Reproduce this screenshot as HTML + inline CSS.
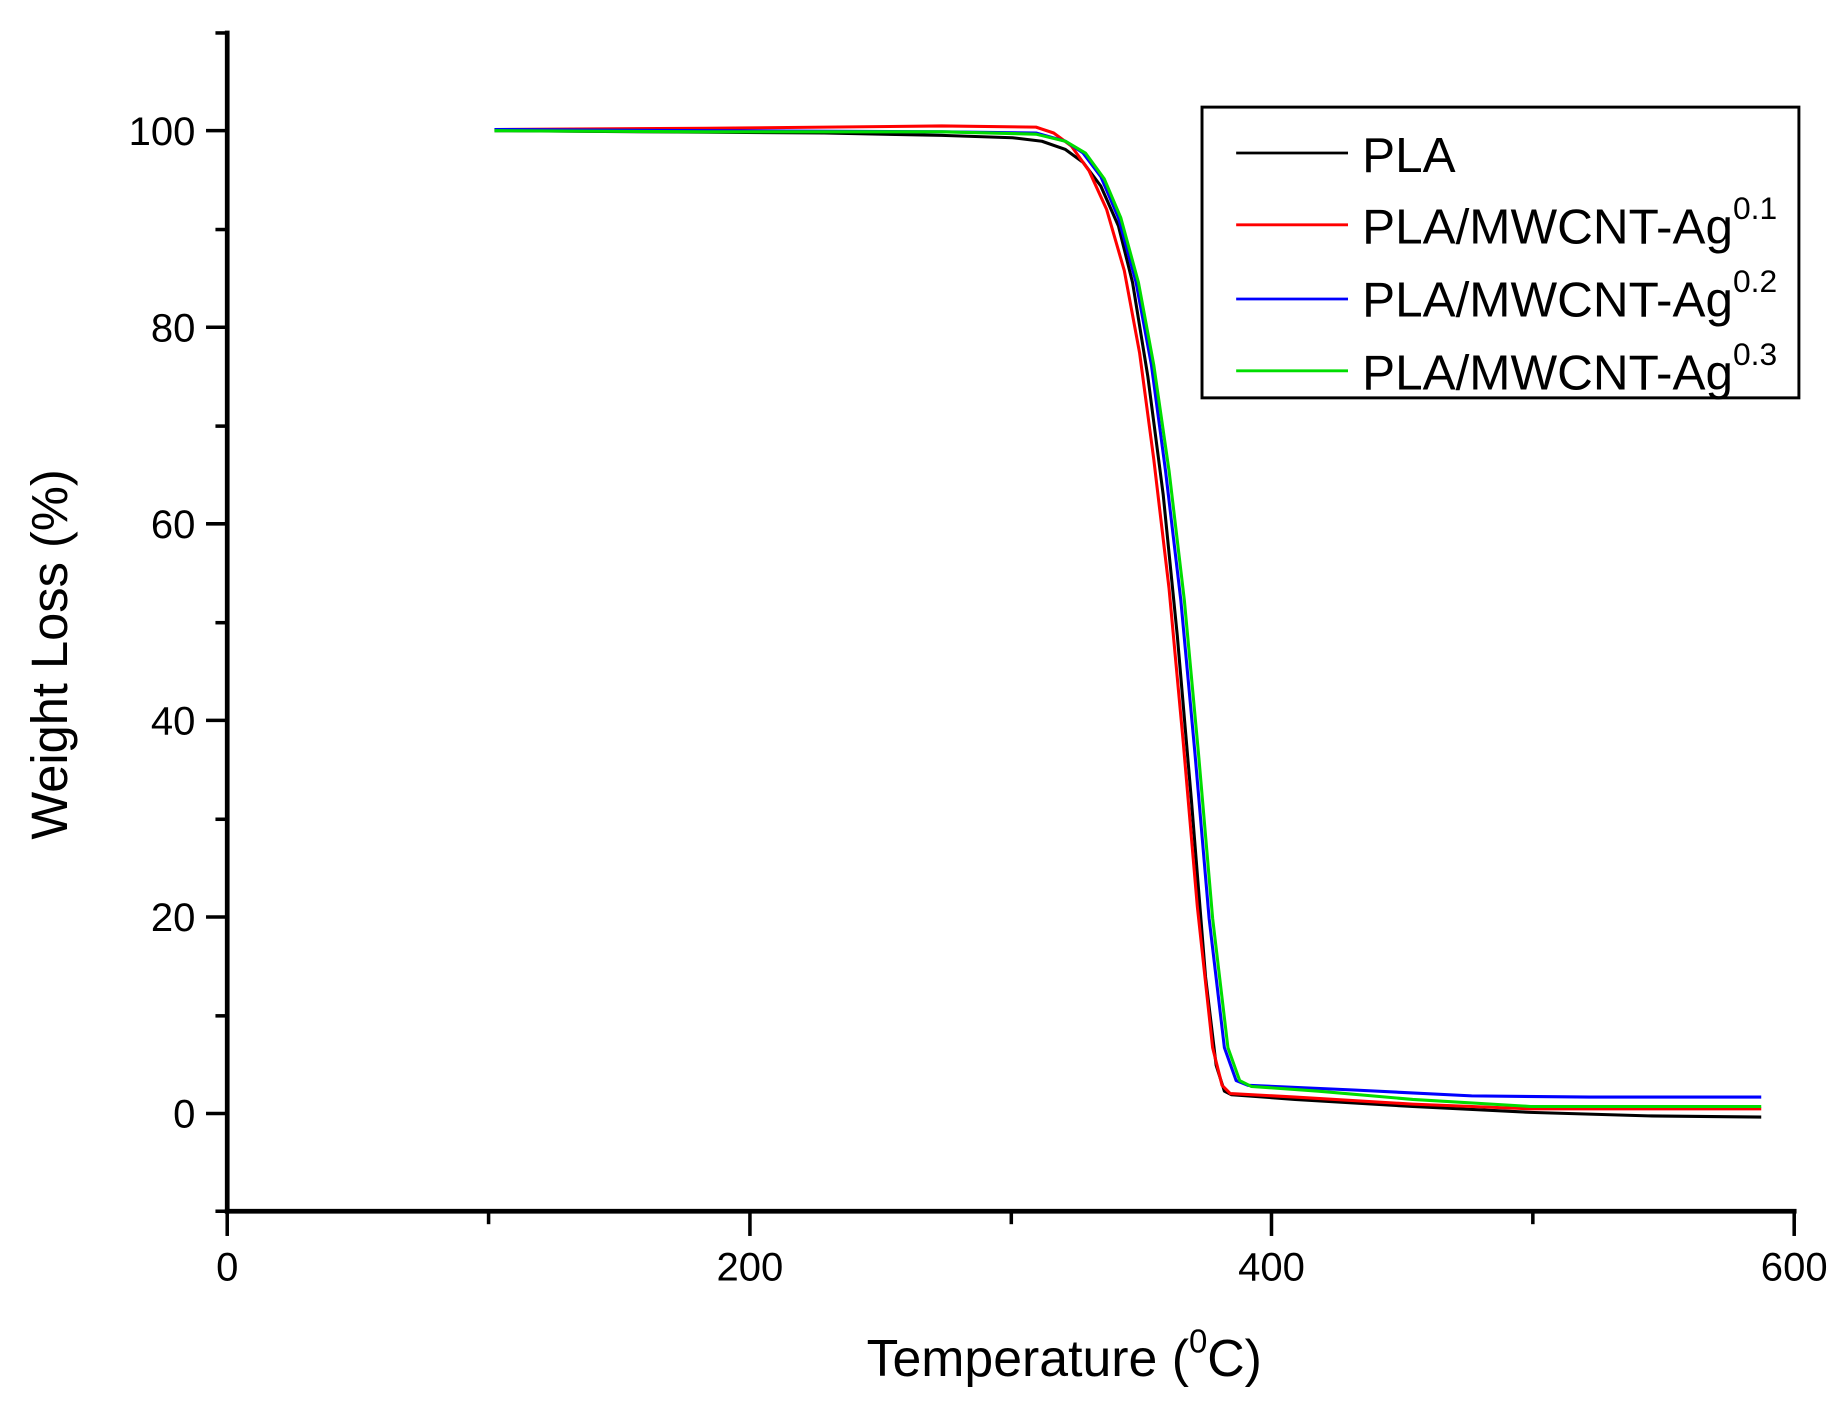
<!DOCTYPE html>
<html><head><meta charset="utf-8"><style>html,body{margin:0;padding:0;background:#fff}svg{display:block}</style></head>
<body>
<svg width="1846" height="1409" viewBox="0 0 1568 1197" preserveAspectRatio="none" xmlns="http://www.w3.org/2000/svg" font-family="Liberation Sans, Arial, sans-serif">
<rect width="1568" height="1197" fill="#fff"/>
<g fill="none" stroke-linejoin="round" stroke-width="2.6">
<polyline stroke="#000" points="420,111 560,112 700,113 800,115 860,117 885,120 905,127 920,138 935,158 950,192 962,240 975,320 988,420 1000,540 1012,680 1024,830 1033,905 1040,927 1046,930 1100,934 1200,940 1300,945 1400,948 1496,949"/>
<polyline stroke="#f00" points="420,110 600,109 800,107 880,108 895,113 910,124 925,145 940,178 955,230 968,300 980,390 993,500 1005,630 1017,770 1030,890 1038,922 1045,929 1100,932 1200,938 1300,942 1496,942"/>
<polyline stroke="#00f" points="420,110 600,111 800,112 880,113 905,120 920,130 935,150 950,185 965,240 978,310 990,400 1003,510 1015,640 1027,780 1040,890 1050,918 1060,922 1150,926 1250,931 1350,932 1496,932"/>
<polyline stroke="#0d0" points="420,111 600,112 800,112 880,114 905,120 922,130 938,152 952,185 967,240 980,310 993,400 1006,510 1018,640 1030,780 1043,890 1053,918 1063,923 1120,927 1200,934 1300,940 1496,940"/>
</g>
<g stroke="#000" stroke-width="4" fill="none">
<line x1="193" y1="26" x2="193" y2="1031"/>
<line x1="191" y1="1029" x2="1526" y2="1029"/>
</g>
<g stroke="#000" stroke-width="3">
<line x1="175" y1="111" x2="193" y2="111"/><line x1="175" y1="278" x2="193" y2="278"/><line x1="175" y1="445" x2="193" y2="445"/><line x1="175" y1="612" x2="193" y2="612"/><line x1="175" y1="779" x2="193" y2="779"/><line x1="175" y1="946" x2="193" y2="946"/>
<line x1="183" y1="28" x2="193" y2="28"/><line x1="183" y1="195" x2="193" y2="195"/><line x1="183" y1="362" x2="193" y2="362"/><line x1="183" y1="529" x2="193" y2="529"/><line x1="183" y1="696" x2="193" y2="696"/><line x1="183" y1="863" x2="193" y2="863"/><line x1="183" y1="1029" x2="193" y2="1029"/>
<line x1="193" y1="1029" x2="193" y2="1050"/><line x1="637" y1="1029" x2="637" y2="1050"/><line x1="1080" y1="1029" x2="1080" y2="1050"/><line x1="1524" y1="1029" x2="1524" y2="1050"/>
<line x1="415" y1="1029" x2="415" y2="1040"/><line x1="859" y1="1029" x2="859" y2="1040"/><line x1="1302" y1="1029" x2="1302" y2="1040"/>
</g>
<g font-size="34" fill="#000" text-anchor="end">
<text x="166" y="123">100</text><text x="166" y="290">80</text><text x="166" y="457">60</text><text x="166" y="624">40</text><text x="166" y="791">20</text><text x="166" y="958">0</text>
</g>
<g font-size="34" fill="#000" text-anchor="middle">
<text x="193" y="1088">0</text><text x="637" y="1088">200</text><text x="1080" y="1088">400</text><text x="1524" y="1088">600</text>
</g>
<text x="904" y="1169" font-size="44" text-anchor="middle">Temperature (<tspan font-size="28" dy="-20">0</tspan><tspan dy="20">C)</tspan></text>
<text transform="translate(57,556) rotate(-90)" font-size="43" text-anchor="middle">Weight Loss (%)</text>
<rect x="1021" y="91" width="507" height="247" fill="#fff" stroke="#000" stroke-width="2.5"/>
<g stroke-width="2.4">
<line x1="1050" y1="130" x2="1145" y2="130" stroke="#000"/>
<line x1="1050" y1="191" x2="1145" y2="191" stroke="#f00"/>
<line x1="1050" y1="254" x2="1145" y2="254" stroke="#00f"/>
<line x1="1050" y1="315" x2="1145" y2="315" stroke="#0d0"/>
</g>
<g font-size="42" fill="#000">
<text x="1157" y="146">PLA</text>
<text x="1157" y="207">PLA/MWCNT-Ag<tspan font-size="27" dy="-21">0.1</tspan></text>
<text x="1157" y="269">PLA/MWCNT-Ag<tspan font-size="27" dy="-21">0.2</tspan></text>
<text x="1157" y="331">PLA/MWCNT-Ag<tspan font-size="27" dy="-21">0.3</tspan></text>
</g>
</svg>
</body></html>
